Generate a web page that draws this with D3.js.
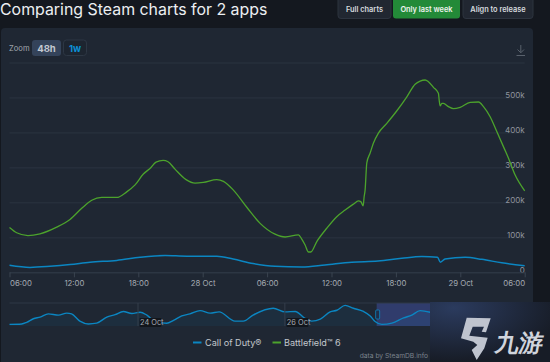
<!DOCTYPE html>
<html>
<head>
<meta charset="utf-8">
<script src="https://cdn.jsdelivr.net/npm/d3@7"></script>
<style>
    html, body { margin: 0; padding: 0; background: #14181f; overflow: hidden; }
    text { font-family: Inter, "Noto Sans", sans-serif; }
</style>
</head>
<body>
<div id="chart"></div>
<script>
// hours after 27 Oct 06:00
const bfHours = [0,0.67,1.72,2.84,4.4,5.64,6.73,7.66,8.59,9.99,10.92,11.7,12.47,13.09,13.65,14.31,14.77,15.42,16.45,17.29,18.06,19.31,19.93,20.86,22.11,23.35,24.74,25.68,26.92,27.23,27.54,27.85,28.07,28.63,29.56,30.49,31.27,32.04,32.51,32.73,32.95,33.04,33.13,33.29,33.6,33.9,34.37,35.15,36.09,37.02,37.79,38.26,38.72,39.03,39.5,39.96,40.03,40.12,40.28,40.43,40.89,41.36,41.99,42.92,43.7,44.16,44.78,45.41,46.11,46.49,47.11,48];
const bfPlayers = [128,113,105,110,129,151,183,206,214,214,230,250,281,297,315,320,316,295,265,255,257,265,260,235,186,140,109,101,107,95,78,58,58,88,126,159,178,195,204,202,190,216,235,313,341,369,398,426,462,502,538,547,550,545,529,512,493,476,483,483,474,468,472,486,487,474,445,402,353,326,278,233].map(d => d * 1000);

const codHours = [0,1.91,3.77,5.64,7.5,9.99,12.16,14.49,16.51,19.31,20.83,22.69,24.74,27.23,29.4,31.89,34.34,36.55,38.42,39.87,40.15,40.58,42.45,44.01,45.87,48];
const codPlayers = [20,14,17,22,29,34,43,48,46,46,38,25,17,15,21,29,32,40,45,43,29,38,43,37,27,19].map(d => d * 1000);

// navigator: hours after 22 Oct 06:00
const navHours = [0,4,5.6,7.8,10,12.7,16,18.7,20.3,23,25.8,28.5,31.8,34.5,37.2,40,42.7,44.9,48,51.4,53.6,56.3,59,62.3,65.6,68.5,73.7,76.4,79.6,86.2,90.1,93.4,96.6,98.8,101.6,104.8,107,109.7,112.4,115.7,117.9,119.5,121.7,125,128.8,131.5,134.2,137.5];
const navPlayers = [14,15,19,28,32,40,37,42,40,22,15,17,32,38,46,41,44,37,19,17,24,35,40,48,42,45,22,22,37,54,45,46,29,22,27,45,49,61,54,46,35,21,14,17,30,37,48,44].map(d => d * 1000);

const xTickHours = [0,6,12,18,24,30,36,42,48];
const xTickLabels = ['06:00','12:00','18:00','28 Oct','06:00','12:00','18:00','29 Oct','06:00'];
const yTicks = [0,100000,200000,300000,400000,500000,600000];
const yTickLabels = ['0','100k','200k','300k','400k','500k',''];
const navTickDays = [24,26];
const legendNames = ['Call of Duty®','Battlefield™ 6'];

const mainStart = d => new Date(Date.UTC(2025,9,27,6) + d * 3600000);
const navStart = d => new Date(Date.UTC(2025,9,22,6) + d * 3600000);

const svg = d3.select('#chart').append('svg')
    .attr('width', 550)
    .attr('height', 362)
    .style('display', 'block');

// panel behind the chart
svg.append('rect')
    .attr('x', 1).attr('y', 28)
    .attr('width', 532).attr('height', 345)
    .attr('rx', 4)
    .attr('fill', '#1f2733');

// page title
svg.append('text')
    .attr('x', 0).attr('y', 15)
    .attr('font-size', 15.9)
    .attr('fill', '#eceff2')
    .text('Comparing Steam charts for 2 apps');

// buttons above the chart
const buttons = [
    {label: 'Full charts', x: 338, w: 53, fill: '#212731', text: '#d5d9de'},
    {label: 'Only last week', x: 393, w: 67, fill: '#238a38', text: '#eef3ee'},
    {label: 'Align to release', x: 463, w: 70, fill: '#212731', text: '#d5d9de'}
];
buttons.forEach(b => {
    svg.append('rect')
        .attr('x', b.x).attr('y', -6)
        .attr('width', b.w).attr('height', 24.5)
        .attr('rx', 3)
        .attr('fill', b.fill)
        .attr('stroke', b.fill === '#212731' ? '#2d343f' : 'none');
    svg.append('text')
        .attr('x', b.x + b.w / 2).attr('y', 12)
        .attr('text-anchor', 'middle')
        .attr('font-size', 7.4)
        .attr('font-weight', 600)
        .attr('fill', b.text)
        .text(b.label);
});

// zoom controls
svg.append('text')
    .attr('x', 9).attr('y', 50.5)
    .attr('font-size', 7.6)
    .attr('fill', '#a3a9b1')
    .text('Zoom');
svg.append('rect')
    .attr('x', 32).attr('y', 40)
    .attr('width', 29).attr('height', 16)
    .attr('rx', 3)
    .attr('fill', '#34435a');
svg.append('text')
    .attr('x', 46.5).attr('y', 51.5)
    .attr('text-anchor', 'middle')
    .attr('font-size', 9.5)
    .attr('font-weight', 700)
    .attr('fill', '#c3c9d1')
    .text('48h');
svg.append('rect')
    .attr('x', 63.5).attr('y', 40)
    .attr('width', 23).attr('height', 15.5)
    .attr('rx', 3)
    .attr('fill', '#1d2530')
    .attr('stroke', '#2d3744');
svg.append('text')
    .attr('x', 75).attr('y', 51.5)
    .attr('text-anchor', 'middle')
    .attr('font-size', 9.5)
    .attr('font-weight', 700)
    .attr('fill', '#0b8fd6')
    .text('1w');

// download icon
svg.append('path')
    .attr('d', 'M516.5 55.5H525 M520.8 45V52.5 M517.5 49.5L520.8 52.8L524 49.5')
    .attr('fill', 'none')
    .attr('stroke', '#59616c')
    .attr('stroke-width', 1);

// main chart
const x = d3.scaleUtc()
    .domain([mainStart(0), mainStart(48)])
    .range([9.5, 524.7]);
const y = d3.scaleLinear()
    .domain([0, 600000])
    .range([272.3, 62.5]);

const yAxis = d3.axisLeft(y)
    .tickValues(yTicks)
    .tickSize(515.2)
    .tickFormat((d, i) => yTickLabels[i]);
const yG = svg.append('g')
    .attr('transform', 'translate(524.7,0)')
    .call(yAxis);
yG.select('.domain').remove();
yG.selectAll('line').attr('stroke', '#2b3440');
yG.selectAll('text')
    .attr('x', 0)
    .attr('dy', '-0.01em')
    .attr('font-size', 8)
    .attr('font-family', 'Inter')
    .attr('fill', '#8f959d');

const xAxis = d3.axisBottom(x)
    .tickValues(xTickHours.map(mainStart))
    .tickSize(5)
    .tickPadding(3)
    .tickSizeOuter(0)
    .tickFormat((d, i) => xTickLabels[i]);
const xG = svg.append('g')
    .attr('transform', 'translate(0,272.3)')
    .call(xAxis);
xG.select('.domain').attr('stroke', '#2f3946');
xG.selectAll('line').attr('stroke', '#3a4450');
xG.selectAll('text')
    .attr('font-size', 7.8)
    .attr('font-family', 'Inter')
    .attr('fill', '#a4aab2');
// first and last labels stay inside the plot
xG.selectAll('.tick text').filter((d, i) => i === 0).attr('text-anchor', 'start');
xG.selectAll('.tick text').filter((d, i) => i === xTickHours.length - 1).attr('text-anchor', 'end');

const line = d3.line()
    .x(d => x(mainStart(d.h)))
    .y(d => y(d.v))
    .curve(d3.curveMonotoneX);

svg.append('path')
    .datum(codHours.map((h, i) => ({h: h, v: codPlayers[i]})))
    .attr('d', line)
    .attr('fill', 'none')
    .attr('stroke', '#0b86c2')
    .attr('stroke-width', 1.5);

svg.append('path')
    .datum(bfHours.map((h, i) => ({h: h, v: bfPlayers[i]})))
    .attr('d', line)
    .attr('fill', 'none')
    .attr('stroke', '#4ca32c')
    .attr('stroke-width', 1.3);

// navigator
const navX = d3.scaleUtc()
    .domain([navStart(0), navStart(168)])
    .range([9.5, 523.5]);
const navY = d3.scaleLinear()
    .domain([10000, 67000])
    .range([326, 303]);

svg.append('rect')
    .attr('x', navX(mainStart(0))).attr('y', 303)
    .attr('width', navX(mainStart(48)) - navX(mainStart(0))).attr('height', 23)
    .attr('fill', '#303c6c');

svg.append('line')
    .attr('x1', 9.5).attr('x2', 523.5)
    .attr('y1', 303).attr('y2', 303)
    .attr('stroke', '#2f3946');

const navData = navHours.map((h, i) => ({h: h, v: navPlayers[i]}));

svg.append('path')
    .datum(navData)
    .attr('d', d3.area()
        .x(d => navX(navStart(d.h)))
        .y0(326)
        .y1(d => navY(d.v))
        .curve(d3.curveMonotoneX))
    .attr('fill', '#0b86c2')
    .attr('fill-opacity', 0.08);

svg.append('path')
    .datum(navData)
    .attr('d', d3.line()
        .x(d => navX(navStart(d.h)))
        .y(d => navY(d.v))
        .curve(d3.curveMonotoneX))
    .attr('fill', 'none')
    .attr('stroke', '#0b86c2')
    .attr('stroke-width', 1.4);

navTickDays.forEach(day => {
    const tx = navX(new Date(Date.UTC(2025,9,day)));
    svg.append('line')
        .attr('x1', tx).attr('x2', tx)
        .attr('y1', 303).attr('y2', 326)
        .attr('stroke', '#343e4b');
    svg.append('rect')
        .attr('x', tx + 1.5).attr('y', 318)
        .attr('width', 22).attr('height', 9)
        .attr('rx', 1)
        .attr('fill', '#12161c');
    svg.append('text')
        .attr('x', tx + 2).attr('y', 325)
        .attr('font-size', 7.4)
        .attr('fill', '#a4aab2')
        .text(day + ' Oct');
});

// left handle of the selection
const hx = navX(mainStart(0));
svg.append('rect')
    .attr('x', hx - 1).attr('y', 310)
    .attr('width', 4).attr('height', 9)
    .attr('rx', 1)
    .attr('fill', '#1f2f4a')
    .attr('stroke', '#0b86c2')
    .attr('stroke-width', 0.8);

// legend
legendNames.forEach((name, i) => {
    const lx = i === 0 ? 193 : 272.5;
    svg.append('line')
        .attr('x1', lx).attr('x2', lx + 8.5)
        .attr('y1', 342.5).attr('y2', 342.5)
        .attr('stroke', i === 0 ? '#0b86c2' : '#4ca32c')
        .attr('stroke-width', 2);
    svg.append('text')
        .attr('x', i === 0 ? 205 : 284).attr('y', 346)
        .attr('font-size', 9.1)
        .attr('fill', '#c2c7cd')
        .text(name);
});

svg.append('text')
    .attr('x', 428).attr('y', 358)
    .attr('text-anchor', 'end')
    .attr('font-size', 6.7)
    .attr('fill', '#7b828b')
    .text('data by SteamDB.info');

// watermark in the corner
const grad = svg.append('defs').append('radialGradient')
    .attr('id', 'mark')
    .attr('cx', '0.2').attr('cy', '0.1').attr('r', '0.9');
grad.append('stop').attr('offset', '0%').attr('stop-color', '#2b3b5e');
grad.append('stop').attr('offset', '100%').attr('stop-color', '#171c26');

svg.append('rect')
    .attr('x', 430).attr('y', 302)
    .attr('width', 120).attr('height', 60)
    .attr('fill', 'url(#mark)');

svg.append('path')
    .attr('d', 'M466.7 317.7L490.7 318.3L486 332.3L481.7 331.7L484 326.7L472.7 326.7L469.3 335.7L487.7 337.7L484.3 348.3L476.7 360L471.7 350L477.3 345L473.3 341.7L461 338.3Z')
    .attr('fill', '#bfc4cf');

svg.append('text')
    .attr('transform', 'translate(494,351) skewX(-10)')
    .attr('font-size', 24)
    .attr('font-weight', 700)
    .attr('font-family', '"Noto Sans CJK SC"')
    .attr('fill', '#d0d4dc')
    .text('九游');
</script>
</body>
</html>
